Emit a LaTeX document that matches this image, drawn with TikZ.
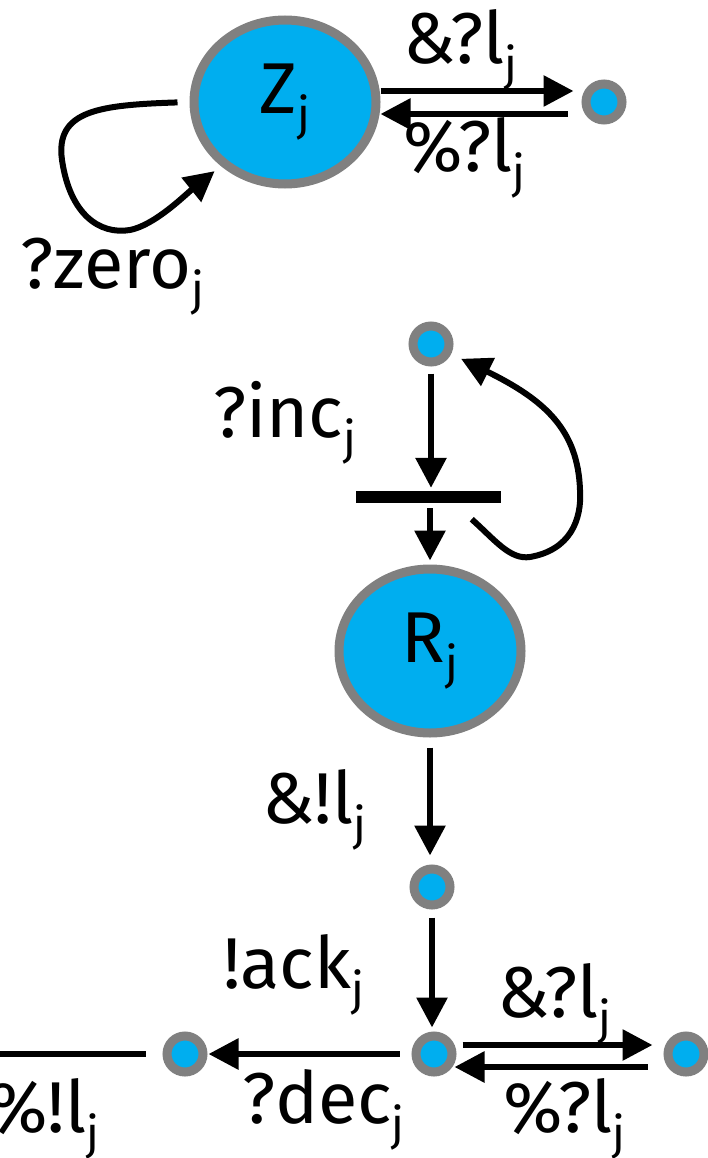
\documentclass[tikz,border=0pt]{standalone}
\usepackage{fontspec}
\setmainfont{Fira Sans}
\usetikzlibrary{arrows.meta,shapes.geometric}
\definecolor{cfill}{RGB}{0,174,239}
\definecolor{cgray}{RGB}{128,128,128}
\newcommand{\sj}{\raisebox{-17pt}{\fontsize{46}{50}\selectfont j}}
\begin{document}
\begin{tikzpicture}[x=1pt,y=-1pt,
  big/.style={ellipse,draw=cgray,fill=cfill,line width=9pt,minimum width=182pt,minimum height=164pt,inner sep=0pt,font=\fontsize{72}{80}\selectfont},
  dot/.style={circle,draw=cgray,fill=cfill,line width=9pt,minimum size=36pt,inner sep=0pt},
  arr/.style={line width=6pt,-{Triangle[length=30pt,width=30pt]}},
  ln/.style={line width=6pt},
  lbl/.style={font=\fontsize{72}{80}\selectfont,inner sep=0pt,anchor=base west},
  barbox/.style={fill=black,minimum width=145pt,minimum height=12pt,inner sep=0pt}]
\useasboundingbox (0,0) rectangle (708,1158);
% nodes
\node[big] (z) at (285,102) {Z\sj};
\node[dot] (d1) at (604,102) {};
\node[dot] (d2) at (431,344) {};
\node[barbox] (b) at (428,497) {};
\node[big] (r) at (430,651) {R\sj};
\node[dot] (d3) at (432,887) {};
\node[dot] (d4) at (434,1054) {};
\node[dot] (d5) at (185,1054) {};
\node[dot] (d6) at (686,1054) {};
\coordinate (e) at (0,1054);
% connectors top
\draw[arr,shorten >=8pt] ([yshift=11pt]z.east) -- ([yshift=11pt]d1.west);
\draw[arr,shorten <=14pt] ([yshift=-12pt]d1.west) -- ([yshift=-12pt]z.east);
\draw[arr,shorten <=12pt,shorten >=8pt] (z.west) .. controls (100,105) and (55,110) .. (62,160)
  .. controls (70,215) and (100,235) .. (130,230) .. controls (155,225) and (185,195) .. (z.225);
% middle
\draw[arr,shorten <=7pt,shorten >=3pt] (d2.south) -- (d2.south |- b.north);
\draw[arr,shorten <=5pt,shorten >=4pt] ([xshift=2pt]b.south) -- (r.north);
\draw[arr,shorten >=11pt] ([shift={(-29,16)}]b.south east) .. controls (495,540) and (510,560) .. (530,557)
  .. controls (570,550) and (582,520) .. (580,490) .. controls (578,430) and (545,400) .. (d2);
% lower
\draw[arr,shorten <=10pt,shorten >=9pt] (r.south) -- (r.south |- d3.north);
\draw[arr,shorten <=8pt,shorten >=4pt] (d3.south) -- (d3.south |- d4.north);
\draw[arr,shorten <=12pt,shorten >=1pt] (d4.west) -- (d5.east);
\draw[ln,shorten <=17pt] (d5.west) -- (e);
\draw[arr,shorten <=6pt,shorten >=11pt] ([yshift=9pt]d4.east) -- ([yshift=9pt]d6.west);
\draw[arr,shorten <=16pt,shorten >=-2pt] ([yshift=-13pt]d6.west) -- ([yshift=-13pt]d4.east);
% labels
\node[lbl] (l1) at (403,64) {\&?l\sj};
\node[lbl] (l2) at (403,172) {\%?l\sj};
\node[lbl] (l3) at (20,288) {?zero\sj};
\node[lbl] (l4) at (213,437) {?inc\sj};
\node[lbl] (l5) at (262,823) {\&!l\sj};
\node[lbl] (l6) at (223,988) {!ack\sj};
\node[lbl] (l7) at (497,1017) {\&?l\sj};
\node[lbl] (l8) at (503,1132) {\%?l\sj};
\node[lbl] (l9) at (242,1123) {?dec\sj};
\node[lbl] (l10) at (-12,1132) {\%!l\sj};
\end{tikzpicture}
\end{document}
